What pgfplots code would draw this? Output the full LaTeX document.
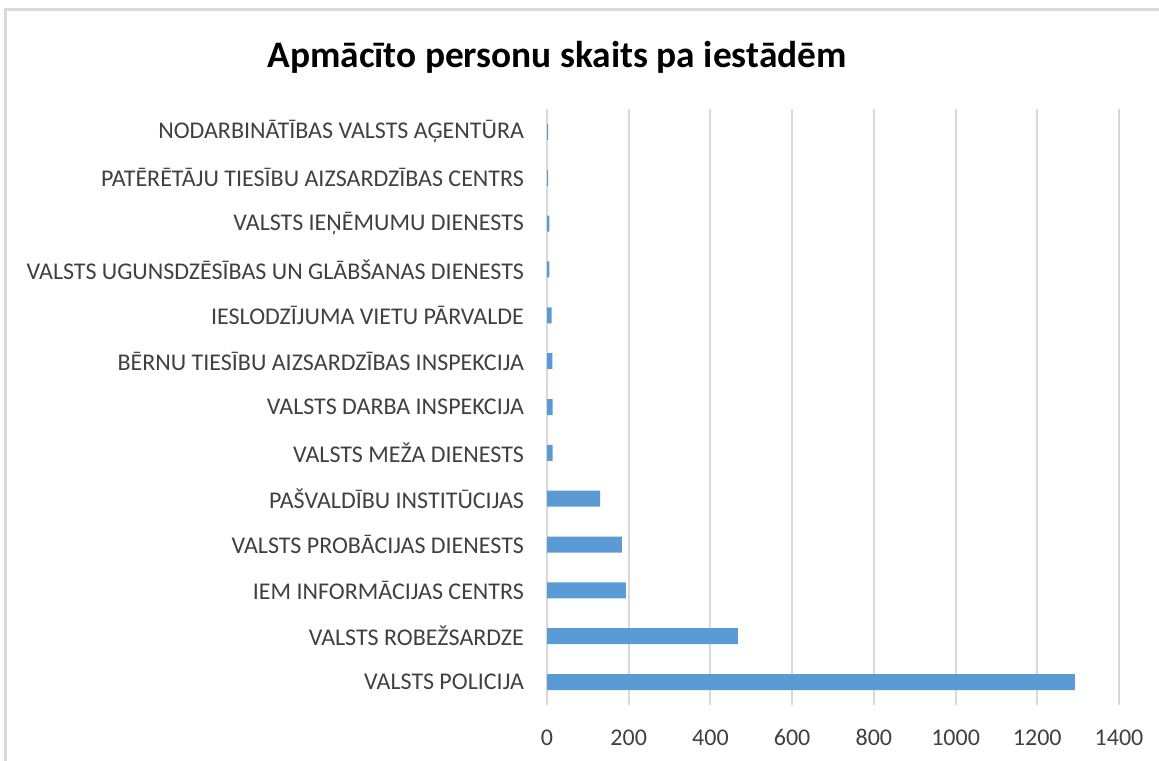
\documentclass[border=0pt]{standalone}
\usepackage{pgfplots}
\pgfplotsset{compat=1.18}
\usepackage{fontspec}
\setmainfont{Carlito}
\definecolor{barblue}{HTML}{5B9BD5}
\definecolor{gridgray}{HTML}{D9D9D9}
\definecolor{labgray}{HTML}{404040}
\begin{document}
\begin{tikzpicture}
\useasboundingbox (0,0) rectangle (579.5pt,380pt);
\draw[gridgray, line width=1.5pt] (2.5pt,-5pt) -- (2.5pt,375pt) -- (585pt,375pt);
\node[font=\fontsize{18.7}{22}\selectfont\bfseries, text=black] at (278.5pt,351.5pt) {Apmācīto personu skaits pa iestādēm};
\begin{axis}[
  at={(273.5pt,27.5pt)}, anchor=south west,
  scale only axis, width=286pt, height=298pt,
  xbar, bar width=8pt,
  xmin=0, xmax=1400, ymin=-0.5, ymax=12.5,
  xtick={0,200,...,1400},
  ytick={0,...,12},
  yticklabels={VALSTS POLICIJA, VALSTS ROBEŽSARDZE, IEM INFORMĀCIJAS CENTRS, VALSTS PROBĀCIJAS DIENESTS, PAŠVALDĪBU INSTITŪCIJAS, VALSTS MEŽA DIENESTS, VALSTS DARBA INSPEKCIJA, BĒRNU TIESĪBU AIZSARDZĪBAS INSPEKCIJA, IESLODZĪJUMA VIETU PĀRVALDE, VALSTS UGUNSDZĒSĪBAS UN GLĀBŠANAS DIENESTS, VALSTS IEŅĒMUMU DIENESTS, PATĒRĒTĀJU TIESĪBU AIZSARDZĪBAS CENTRS, NODARBINĀTĪBAS VALSTS AĢENTŪRA},
  xmajorgrids, major grid style={gridgray, line width=1pt},
  axis line style={draw=none},
  major tick length=0pt,
  tick label style={font=\fontsize{12}{14}\selectfont, text=labgray},
  yticklabel style={xshift=-8pt},
  xticklabel style={yshift=-9pt, text height=1.6ex, text depth=0.3ex},
  /pgf/number format/assume math mode=true,
  /pgf/number format/set thousands separator={},
  clip=false,
]
\addplot[fill=barblue, draw=none] coordinates {
(1292,0) (467,1) (193,2) (183,3) (130,4) (14,5) (14,6) (13,7) (11,8) (6,9) (6,10) (3,11) (3,12)};
\end{axis}
\end{tikzpicture}
\end{document}
